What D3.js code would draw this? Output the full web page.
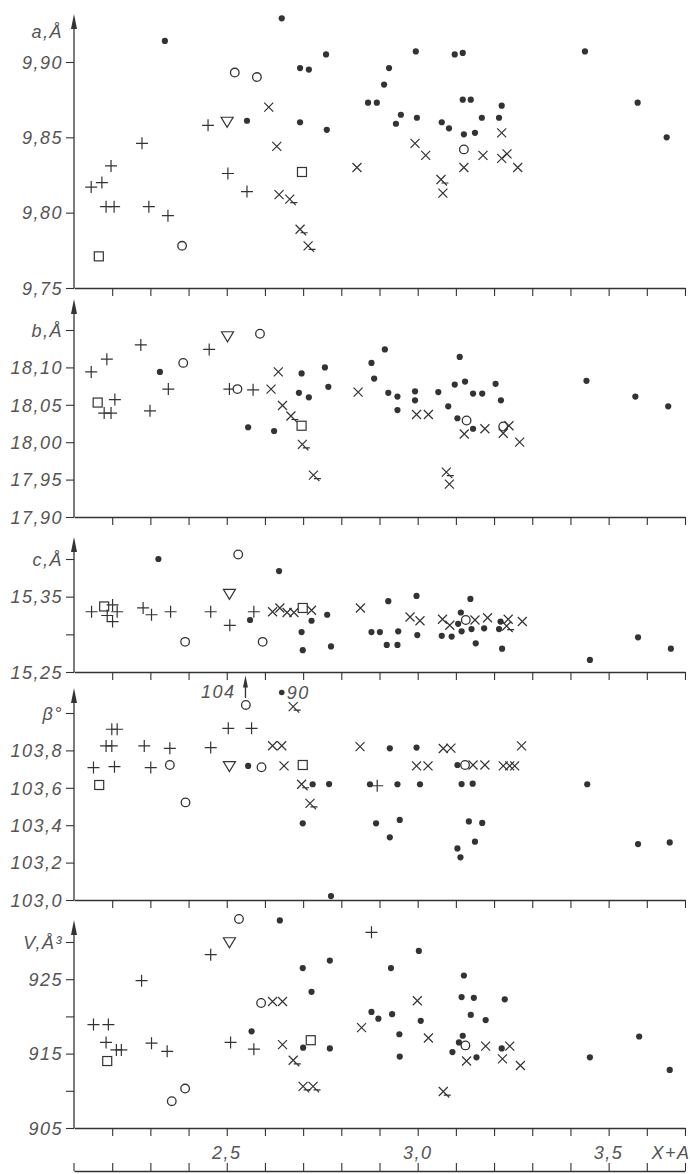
<!DOCTYPE html>
<html>
<head>
<meta charset="utf-8">
<script src="https://cdn.jsdelivr.net/npm/d3@7"></script>
<style>
  body { margin: 0; background: #fff; }
  text.lbl { font-family: "Liberation Sans", Arial, sans-serif; font-style: italic; font-size: 18px; fill: #555; letter-spacing: 1.5px; }
</style>
</head>
<body>
<div id="chart"></div>
<script>
// x axis (X+A)
var xTicks = [2.2, 2.3, 2.4, 2.5, 2.6, 2.7, 2.8, 2.9, 3.0, 3.1, 3.2, 3.3, 3.4, 3.5, 3.6, 3.7];
var xLabelVals = [2.5, 3.0, 3.5];

// y ticks and their labels, one pair per panel
var aTicks = [9.75, 9.80, 9.85, 9.90];
var aLabels = ["9,75", "9,80", "9,85", "9,90"];
var bTicks = [17.90, 17.95, 18.00, 18.05, 18.10, 18.15];
var bLabels = ["17,90", "17,95", "18,00", "18,05", "18,10", "b,Å"];
var cTicks = [15.25, 15.30, 15.35, 15.40];
var cLabels = ["15,25", "", "15,35", "c,Å"];
var betaTicks = [103.0, 103.2, 103.4, 103.6, 103.8, 104.0];
var betaLabels = ["103,0", "103,2", "103,4", "103,6", "103,8", "β°"];
var vTicks = [905, 910, 915, 920, 925, 930];
var vLabels = ["905", "", "915", "", "925", "V,Å³"];

// points: [X+A, value, marker]
var aPts = [
  [2.644,9.929,"dot"],[2.338,9.914,"dot"],[2.760,9.905,"dot"],[2.692,9.896,"dot"],[2.715,9.895,"dot"],
  [2.521,9.893,"o"],[2.579,9.890,"o"],[2.610,9.870,"x"],[2.451,9.858,"+"],[2.501,9.860,"tri"],
  [2.553,9.861,"dot"],[2.692,9.860,"dot"],[2.762,9.855,"dot"],[2.278,9.846,"+"],[2.631,9.844,"x"],
  [2.197,9.831,"+"],[2.697,9.827,"sq"],[2.503,9.826,"+"],[2.145,9.817,"+"],[2.173,9.820,"+"],
  [2.553,9.814,"+"],[2.637,9.812,"x"],[2.665,9.809,"xt"],[2.184,9.804,"+"],[2.205,9.804,"+"],
  [2.296,9.804,"+"],[2.346,9.798,"+"],[2.692,9.789,"xt"],[2.713,9.778,"xt"],[2.383,9.778,"o"],[2.165,9.771,"sq"],
  [2.995,9.907,"dot"],[3.097,9.905,"dot"],[3.118,9.906,"dot"],[3.438,9.907,"dot"],[2.925,9.896,"dot"],
  [2.912,9.885,"dot"],[2.870,9.873,"dot"],[2.893,9.873,"dot"],[3.118,9.875,"dot"],[3.139,9.875,"dot"],
  [3.576,9.873,"dot"],[3.220,9.871,"dot"],[2.956,9.865,"dot"],[2.998,9.863,"dot"],[3.168,9.863,"dot"],
  [3.213,9.863,"dot"],[2.943,9.859,"dot"],[3.063,9.860,"dot"],[3.082,9.856,"dot"],[3.121,9.852,"dot"],
  [3.150,9.853,"dot"],[3.652,9.850,"dot"],[3.220,9.853,"x"],[2.993,9.846,"x"],[3.121,9.842,"o"],
  [3.021,9.838,"x"],[3.171,9.838,"x"],[3.234,9.839,"x"],[3.220,9.836,"x"],[2.841,9.830,"x"],
  [3.121,9.830,"x"],[3.262,9.830,"x"],[3.061,9.822,"xt"],[3.066,9.813,"x"]
];
var bPts = [
  [2.275,18.130,"+"],[2.502,18.141,"tri"],[2.587,18.145,"o"],[2.186,18.111,"+"],[2.145,18.094,"+"],
  [2.386,18.106,"o"],[2.454,18.124,"+"],[2.325,18.094,"dot"],[2.347,18.071,"+"],[2.507,18.071,"+"],
  [2.528,18.071,"o"],[2.569,18.070,"+"],[2.635,18.094,"x"],[2.616,18.071,"x"],[2.696,18.092,"dot"],
  [2.757,18.100,"dot"],[2.766,18.074,"dot"],[2.689,18.066,"dot"],[2.715,18.060,"dot"],[2.646,18.049,"x"],
  [2.668,18.035,"xt"],[2.696,18.022,"sq"],[2.698,17.997,"xt"],[2.162,18.053,"sq"],[2.207,18.057,"+"],
  [2.179,18.039,"+"],[2.197,18.039,"+"],[2.299,18.042,"+"],[2.556,18.020,"dot"],[2.624,18.015,"dot"],
  [2.727,17.956,"xt"],
  [2.844,18.067,"x"],[2.914,18.124,"dot"],[2.879,18.106,"dot"],[2.886,18.085,"dot"],[3.110,18.114,"dot"],
  [2.923,18.066,"dot"],[2.947,18.061,"dot"],[2.993,18.068,"dot"],[2.993,18.056,"dot"],[3.054,18.067,"dot"],
  [3.097,18.077,"dot"],[3.124,18.081,"dot"],[3.204,18.078,"dot"],[3.145,18.065,"dot"],[3.169,18.065,"dot"],
  [3.218,18.056,"dot"],[2.947,18.043,"dot"],[3.080,18.048,"dot"],[2.997,18.037,"x"],[3.028,18.037,"x"],
  [3.104,18.032,"dot"],[3.128,18.029,"o"],[3.122,18.011,"x"],[3.145,18.018,"dot"],[3.176,18.018,"x"],
  [3.224,18.021,"o"],[3.239,18.022,"x"],[3.224,18.012,"x"],[3.267,18.000,"x"],[3.442,18.082,"dot"],
  [3.570,18.061,"dot"],[3.656,18.048,"dot"],[3.075,17.960,"xt"],[3.083,17.944,"x"]
];
var cPts = [
  [2.321,15.400,"dot"],[2.530,15.406,"o"],[2.637,15.384,"dot"],[2.507,15.353,"tri"],[2.146,15.330,"+"],
  [2.179,15.337,"sq"],[2.201,15.339,"+"],[2.213,15.330,"+"],[2.187,15.325,"+"],[2.201,15.317,"+"],
  [2.281,15.335,"+"],[2.303,15.326,"+"],[2.353,15.330,"+"],[2.458,15.330,"+"],[2.508,15.312,"+"],
  [2.571,15.330,"+"],[2.561,15.319,"dot"],[2.620,15.330,"x"],[2.639,15.335,"x"],[2.658,15.329,"x"],
  [2.676,15.329,"x"],[2.699,15.335,"sq"],[2.722,15.332,"x"],[2.722,15.318,"dot"],[2.763,15.326,"dot"],
  [2.696,15.303,"dot"],[2.391,15.290,"o"],[2.594,15.290,"o"],[2.699,15.279,"dot"],[2.773,15.284,"dot"],
  [2.850,15.335,"x"],[2.923,15.344,"dot"],[2.997,15.351,"dot"],[3.138,15.347,"dot"],[2.980,15.323,"x"],
  [3.006,15.318,"x"],[3.065,15.320,"x"],[3.113,15.329,"dot"],[3.084,15.312,"x"],[3.106,15.314,"dot"],
  [3.126,15.319,"o"],[3.150,15.319,"x"],[3.183,15.322,"x"],[3.174,15.308,"dot"],[3.217,15.317,"dot"],
  [3.237,15.320,"x"],[3.233,15.311,"xt"],[3.274,15.317,"x"],[3.213,15.307,"dot"],[2.879,15.303,"dot"],
  [2.901,15.303,"dot"],[2.949,15.304,"dot"],[2.999,15.299,"dot"],[3.063,15.298,"dot"],[3.089,15.297,"dot"],
  [3.115,15.304,"dot"],[3.141,15.307,"dot"],[3.152,15.288,"dot"],[2.919,15.286,"dot"],[2.947,15.286,"dot"],
  [3.577,15.296,"dot"],[3.221,15.281,"dot"],[3.451,15.266,"dot"],[3.663,15.281,"dot"]
];
var betaPts = [
  [2.550,104.043,"o"],[2.504,103.918,"+"],[2.565,103.918,"+"],[2.199,103.913,"+"],[2.213,103.913,"+"],
  [2.184,103.824,"+"],[2.199,103.824,"+"],[2.284,103.824,"+"],[2.351,103.811,"+"],[2.458,103.815,"+"],
  [2.620,103.825,"x"],[2.644,103.825,"x"],[2.151,103.708,"+"],[2.206,103.713,"+"],[2.301,103.708,"+"],
  [2.351,103.722,"o"],[2.507,103.713,"tri"],[2.556,103.717,"dot"],[2.591,103.710,"o"],[2.650,103.717,"x"],
  [2.699,103.722,"sq"],[2.166,103.615,"sq"],[2.696,103.619,"xt"],[2.725,103.619,"dot"],[2.768,103.620,"dot"],
  [2.392,103.522,"o"],[2.718,103.517,"xt"],[2.699,103.410,"dot"],[2.773,103.021,"dot"],[2.674,104.034,"xt"],
  [2.849,103.820,"x"],[2.927,103.811,"dot"],[2.997,103.815,"dot"],[3.067,103.810,"x"],[3.087,103.812,"x"],
  [3.272,103.824,"x"],[2.997,103.717,"x"],[3.027,103.717,"x"],[3.104,103.722,"dot"],[3.124,103.722,"o"],
  [3.145,103.722,"x"],[3.176,103.722,"x"],[3.224,103.717,"x"],[3.241,103.717,"x"],[3.254,103.717,"x"],
  [2.875,103.619,"dot"],[2.894,103.611,"+"],[2.947,103.619,"dot"],[3.006,103.619,"dot"],[3.115,103.620,"dot"],
  [3.144,103.622,"dot"],[3.444,103.619,"dot"],[2.891,103.410,"dot"],[2.953,103.428,"dot"],[2.927,103.335,"dot"],
  [3.134,103.420,"dot"],[3.169,103.412,"dot"],[3.150,103.312,"dot"],[3.104,103.276,"dot"],[3.112,103.228,"dot"],
  [3.577,103.299,"dot"],[3.660,103.308,"dot"]
];
var vPts = [
  [2.532,933.1,"o"],[2.639,932.9,"dot"],[2.507,929.9,"tri"],[2.458,928.3,"+"],[2.699,926.5,"dot"],
  [2.770,927.5,"dot"],[2.277,924.8,"+"],[2.722,923.3,"dot"],[2.590,921.8,"o"],[2.620,922.0,"x"],
  [2.646,922.0,"x"],[2.151,918.9,"+"],[2.190,918.9,"+"],[2.565,918.0,"dot"],[2.184,916.5,"+"],
  [2.211,915.5,"+"],[2.224,915.5,"+"],[2.303,916.4,"+"],[2.344,915.3,"+"],[2.510,916.5,"+"],
  [2.571,915.6,"+"],[2.646,916.2,"x"],[2.700,915.8,"dot"],[2.720,916.8,"sq"],[2.770,915.7,"dot"],
  [2.187,914.0,"sq"],[2.674,914.1,"xt"],[2.391,910.3,"o"],[2.356,908.6,"o"],[2.700,910.6,"xt"],[2.726,910.6,"xt"],
  [2.879,931.3,"+"],[3.003,928.8,"dot"],[2.930,926.5,"dot"],[3.121,925.5,"dot"],[2.999,922.1,"x"],
  [3.115,922.6,"dot"],[3.147,922.5,"dot"],[3.228,922.3,"dot"],[2.879,920.6,"dot"],[2.897,919.7,"dot"],
  [2.933,920.3,"dot"],[3.008,919.4,"dot"],[3.139,920.2,"dot"],[3.178,919.5,"dot"],[2.853,918.5,"x"],
  [2.952,917.6,"dot"],[3.028,917.1,"x"],[3.118,917.4,"dot"],[3.108,916.5,"dot"],[3.125,916.1,"o"],
  [3.178,916.0,"x"],[3.220,915.7,"dot"],[3.241,916.0,"x"],[3.091,915.2,"dot"],[2.953,914.6,"dot"],
  [3.154,914.5,"dot"],[3.128,914.0,"x"],[3.222,914.3,"x"],[3.269,913.4,"x"],[3.067,909.9,"xt"],
  [3.451,914.5,"dot"],[3.580,917.3,"dot"],[3.660,912.8,"dot"]
];

// off-scale notes in the beta panel
var betaArrow = [2.549, 104.08, 104.20];
var betaNote = [2.644, 104.11, "90"];

var svgWidth = 690;
var svgHeight = 1174;
var ink = "#333";

var svg = d3.select("#chart").append("svg")
  .attr("width", svgWidth)
  .attr("height", svgHeight);

var x = d3.scaleLinear().domain([2.1, 3.7]).range([74, 685]);
var comma = function(s) { return s.replace(".", ","); };

// panel layout: data domain mapped onto pixel band, arrow tip of the y axis
var panels = [
  { pts: aPts, ticks: aTicks, labels: aLabels, dom: [9.75, 9.90], rng: [288, 62], tip: 14 },
  { pts: bPts, ticks: bTicks, labels: bLabels, dom: [17.90, 18.15], rng: [517, 330], tip: 299 },
  { pts: cPts, ticks: cTicks, labels: cLabels, dom: [15.25, 15.40], rng: [672, 559], tip: 537 },
  { pts: betaPts, ticks: betaTicks, labels: betaLabels, dom: [103.0, 104.0], rng: [900, 713], tip: 688 },
  { pts: vPts, ticks: vTicks, labels: vLabels, dom: [905, 930], rng: [1128, 942], tip: 920 }
];

function marker(g, type) {
  if (type == "dot") {
    g.append("circle").attr("r", 3.1).attr("fill", ink);
  } else if (type == "o") {
    g.append("circle").attr("r", 4.3).attr("fill", "#fff").attr("stroke", ink).attr("stroke-width", 1.3);
  } else if (type == "+") {
    g.append("path").attr("d", "M-6,0H6M0,-6V6").attr("stroke", ink).attr("stroke-width", 1.2);
  } else if (type == "x") {
    g.append("path").attr("d", "M-4.5,-4.5L4.5,4.5M-4.5,4.5L4.5,-4.5").attr("stroke", ink).attr("stroke-width", 1.2);
  } else if (type == "xt") {
    // cross with a small bar through its lower right arm
    g.append("path").attr("d", "M-4.5,-4.5L6,6M-4.5,4.5L4.5,-4.5M0.5,3.5H7.5").attr("stroke", ink).attr("stroke-width", 1.2);
  } else if (type == "sq") {
    g.append("rect").attr("x", -4.5).attr("y", -4.5).attr("width", 9).attr("height", 9)
      .attr("fill", "#fff").attr("stroke", ink).attr("stroke-width", 1.2);
  } else if (type == "tri") {
    g.append("path").attr("d", "M-6,-5H6L0,5Z").attr("fill", "#fff").attr("stroke", ink).attr("stroke-width", 1.2);
  }
}

panels.forEach(function(p, i) {
  var y = d3.scaleLinear().domain(p.dom).range(p.rng);
  var bottom = p.rng[0];
  var g = svg.append("g");

  // bottom axis line with ticks hanging down
  var xAxis = d3.axisBottom(x).tickValues(xTicks).tickSize(8).tickSizeOuter(0).tickFormat("");
  g.append("g")
    .attr("transform", `translate(0, ${bottom})`)
    .call(xAxis)
    .call(function(s) {
      s.select(".domain").attr("stroke", ink).attr("stroke-width", 1.3);
      s.selectAll(".tick line").attr("stroke", ink).attr("stroke-width", 1.1);
    });

  // y axis with arrow
  g.append("line")
    .attr("x1", 74).attr("x2", 74)
    .attr("y1", bottom).attr("y2", p.tip + 6)
    .attr("stroke", ink).attr("stroke-width", 1.3);
  g.append("path")
    .attr("d", `M74,${p.tip}L71,${p.tip + 15}L77,${p.tip + 15}Z`)
    .attr("fill", ink);

  var yAxis = d3.axisLeft(y).tickValues(p.ticks).tickSize(8)
    .tickFormat(function(d, j) { return p.labels[j]; });
  g.append("g")
    .attr("transform", "translate(74, 0)")
    .call(yAxis)
    .call(function(s) {
      s.select(".domain").remove();
      s.selectAll(".tick line").attr("stroke", ink).attr("stroke-width", 1.1);
      s.selectAll(".tick text").attr("class", "lbl").attr("x", -11).attr("dy", "0.35em")
        .attr("font-size", null).attr("font-family", null).attr("fill", null);
    });

  if (i == 0) {
    g.append("text").attr("class", "lbl")
      .attr("x", 63).attr("y", y(9.92))
      .attr("dy", "0.35em").attr("text-anchor", "end")
      .text("a,Å");
  }

  // the points
  g.selectAll("g.pt")
    .data(p.pts)
    .enter()
    .append("g")
    .attr("class", "pt")
    .attr("transform", function(d) { return `translate(${x(d[0])}, ${y(d[1])})`; })
    .each(function(d) { marker(d3.select(this), d[2]); });

  if (i == 3) {
    // 104 arrow above the circle
    var ax = x(betaArrow[0]);
    g.append("line")
      .attr("x1", ax).attr("x2", ax)
      .attr("y1", y(betaArrow[1])).attr("y2", y(betaArrow[2]) + 8)
      .attr("stroke", ink).attr("stroke-width", 1.3);
    g.append("path")
      .attr("d", `M${ax},${y(betaArrow[2])}L${ax - 2.5},${y(betaArrow[2]) + 12}L${ax + 2.5},${y(betaArrow[2]) + 12}Z`)
      .attr("fill", ink);
    g.append("text").attr("class", "lbl")
      .attr("x", ax - 10).attr("y", y(betaArrow[1]))
      .attr("text-anchor", "end")
      .text("104");
    // point far off scale, marked 90
    g.append("circle")
      .attr("cx", x(betaNote[0])).attr("cy", y(betaNote[1]))
      .attr("r", 2.8).attr("fill", ink);
    g.append("text").attr("class", "lbl")
      .attr("x", x(betaNote[0]) + 5).attr("y", y(betaNote[1]))
      .attr("dy", "0.35em")
      .text(betaNote[2]);
  }
});

// x labels under the last panel
svg.selectAll("text.xl")
  .data(xLabelVals)
  .enter()
  .append("text")
  .attr("class", "lbl xl")
  .attr("x", function(d) { return x(d); })
  .attr("y", 1153)
  .attr("dy", "0.35em")
  .attr("text-anchor", "middle")
  .text(function(d) { return comma(d.toFixed(1)); });

svg.append("text")
  .attr("class", "lbl")
  .attr("x", 671)
  .attr("y", 1153)
  .attr("dy", "0.35em")
  .attr("text-anchor", "middle")
  .text("X+A");

// bottom ruler with ticks pointing up
svg.append("g")
  .attr("transform", "translate(0, 1171)")
  .call(d3.axisTop(x).tickValues(xTicks).tickSize(8).tickSizeOuter(0).tickFormat(""))
  .call(function(s) {
    s.select(".domain").attr("stroke", ink).attr("stroke-width", 1.3);
    s.selectAll(".tick line").attr("stroke", ink).attr("stroke-width", 1.1);
  });
svg.append("line")
  .attr("x1", 74).attr("x2", 74).attr("y1", 1163).attr("y2", 1171)
  .attr("stroke", ink).attr("stroke-width", 1.1);
</script>
</body>
</html>
